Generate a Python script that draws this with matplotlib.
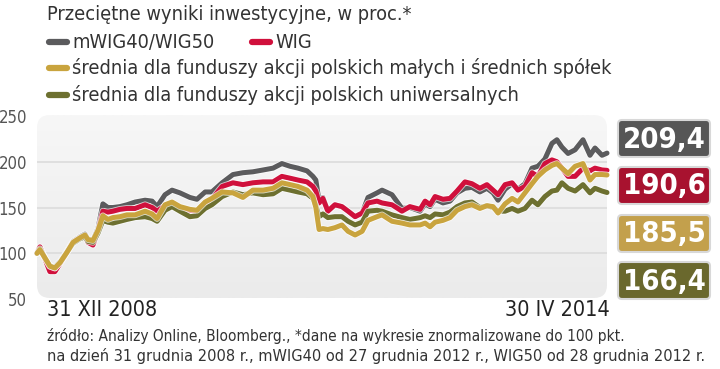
import matplotlib
matplotlib.use("Agg")
import matplotlib.pyplot as plt
import matplotlib.patheffects as pe
from matplotlib.patches import FancyBboxPatch
from matplotlib.lines import Line2D
import numpy as np
import pandas as pd

# data (normalized to 100 on 31 XII 2008)
dates = ["2008-12-31", "2009-01-10", "2009-01-27", "2009-02-13", "2009-03-02", "2009-03-20",
         "2009-04-12", "2009-05-03", "2009-05-27", "2009-06-13", "2009-06-23", "2009-07-10",
         "2009-07-27", "2009-08-13", "2009-08-30", "2009-09-16", "2009-10-10", "2009-11-03",
         "2009-12-01", "2010-01-04", "2010-01-28", "2010-02-14", "2010-03-13", "2010-04-06",
         "2010-05-03", "2010-06-06", "2010-06-30", "2010-07-28", "2010-08-20", "2010-09-24",
         "2010-10-31", "2010-12-04", "2011-01-07", "2011-02-11", "2011-03-17", "2011-04-16",
         "2011-05-14", "2011-06-10", "2011-07-11", "2011-07-31", "2011-08-10", "2011-08-21",
         "2011-09-03", "2011-09-20", "2011-10-14", "2011-11-07", "2011-11-28", "2011-12-22",
         "2012-01-15", "2012-02-04", "2012-03-06", "2012-03-23", "2012-04-26", "2012-05-30",
         "2012-06-26", "2012-07-31", "2012-08-17", "2012-09-03", "2012-09-20", "2012-10-17",
         "2012-11-10", "2012-12-04", "2012-12-31", "2013-01-24", "2013-02-20", "2013-03-16",
         "2013-04-06", "2013-04-23", "2013-05-17", "2013-06-10", "2013-06-30", "2013-07-24",
         "2013-08-17", "2013-09-06", "2013-09-30", "2013-10-24", "2013-11-10", "2013-11-27",
         "2013-12-18", "2014-01-11", "2014-02-07", "2014-03-03", "2014-03-20", "2014-04-13",
         "2014-04-30"]

mwig = [100, 107, 95, 86, 85, 91, 102, 113, 118, 121, 115, 114,
        127, 154, 150, 150, 151, 153, 156, 158, 157, 151, 164, 169,
        166, 161, 159, 167, 167, 177, 186, 188, 189, 191, 193, 198,
        195, 193, 190, 184, 180, 157, 161, 146, 153, 151, 146, 140,
        144, 161, 166, 169, 164, 149, 150, 146, 154, 151, 159, 155,
        157, 166, 171, 172, 167, 171, 166, 158, 170, 176, 170, 176,
        193, 195, 203, 220, 224, 216, 209, 213, 224, 207, 215, 207,
        209.4]

wig = [100, 107, 94, 80, 80, 89, 101, 112, 117, 119, 112, 109,
       124, 146, 145, 146, 148, 149, 149, 153, 150, 146, 152, 155,
       150, 147, 146, 155, 159, 173, 177, 175, 177, 178, 178, 184,
       182, 180, 178, 173, 168, 155, 160, 146, 153, 151, 146, 140,
       144, 155, 157, 155, 153, 146, 151, 148, 157, 153, 162, 159,
       160, 168, 178, 176, 171, 175, 169, 164, 175, 177, 169, 173,
       188, 184, 198, 202, 200, 193, 184, 184, 193, 190, 193, 191,
       190.6]

small_mid = [100, 104, 95, 86, 84, 90, 101, 112, 117, 120, 115, 114,
             125, 141, 137, 139, 140, 142, 142, 146, 143, 138, 153, 156,
             151, 148, 147, 156, 160, 167, 166, 161, 169, 169, 171, 177,
             175, 173, 169, 162, 150, 126, 127, 126, 128, 131, 124, 120,
             124, 136, 140, 142, 135, 133, 131, 131, 133, 129, 134, 136,
             139, 147, 151, 153, 149, 152, 151, 144, 154, 160, 156, 166,
             176, 184, 191, 196, 198, 193, 187, 195, 198, 180, 186, 186,
             185.5]

universal = [100, 105, 95, 86, 84, 90, 101, 111, 116, 118, 113, 112,
             122, 136, 134, 133, 135, 137, 139, 140, 138, 135, 147, 151,
             146, 140, 141, 149, 153, 162, 167, 164, 166, 164, 165, 171,
             169, 167, 165, 160, 152, 140, 143, 139, 140, 140, 135, 131,
             134, 146, 147, 146, 142, 139, 137, 139, 141, 139, 143, 142,
             145, 151, 155, 156, 150, 152, 150, 146, 146, 149, 146, 149,
             158, 153, 162, 168, 169, 177, 171, 168, 175, 166, 171, 168,
             166.4]

labels = ["mWIG40/WIG50", "WIG",
          "średnia dla funduszy akcji polskich małych i średnich spółek",
          "średnia dla funduszy akcji polskich uniwersalnych"]
end_values = ["209,4", "190,6", "185,5", "166,4"]
y_ticks = [50, 100, 150, 200, 250]

line_colors = ["#5b5b5d", "#d0103c", "#c9a43e", "#6d7030"]
box_colors = ["#565656", "#a8122f", "#c3a04c", "#6a682d"]

plt.rcParams['font.family'] = ['DejaVu Sans']
plt.rcParams['font.stretch'] = 'condensed'

W, H = 720, 369
fig = plt.figure(figsize=(W / 100, H / 100), dpi=100)


def fx(px):
    return px / W


def fy(py):
    return 1 - py / H


# rounded grey panel with a soft vertical gradient
bg = fig.add_axes([0, 0, 1, 1], zorder=0)
bg.set_xlim(0, W)
bg.set_ylim(H, 0)
bg.axis('off')
panel = FancyBboxPatch((37, 115), 570, 183, boxstyle="round,pad=0,rounding_size=13",
                       fc="none", ec="none")
bg.add_patch(panel)
grad = np.linspace(0, 1, 100).reshape(-1, 1)
cmap = matplotlib.colors.LinearSegmentedColormap.from_list("g", ["#f7f7f7", "#ebebeb"])
img = bg.imshow(grad, extent=(37, 607, 298, 115), cmap=cmap, aspect='auto', zorder=0.5)
img.set_clip_path(panel)

# main chart
ax = fig.add_axes([fx(37), fy(299.6), fx(570), (299.6 - 115) / H], zorder=1)
ax.patch.set_alpha(0)
x = pd.to_datetime(dates)
ax.set_xlim(x[0], x[-1])
ax.set_ylim(49.5, 251)
for s in ax.spines.values():
    s.set_visible(False)
for g in [100, 150, 200]:
    ax.axhline(g, color="#dadada", lw=1.1, zorder=1)

series = [mwig, wig, universal, small_mid]
cols = [line_colors[0], line_colors[1], line_colors[3], line_colors[2]]
for vals, c in zip(series, cols):
    ax.plot(x, vals, color=c, lw=3.6, solid_capstyle='round', solid_joinstyle='round',
            clip_on=False, zorder=3,
            path_effects=[pe.Stroke(linewidth=4.8, foreground=(1, 1, 1, 0.7)), pe.Normal()])

ax.set_xticks([])
ax.set_yticks(y_ticks)
ax.set_yticklabels([str(t) for t in y_ticks], fontsize=12, color="#555555")
ax.tick_params(axis='y', length=0, pad=7)

# x end labels
fig.text(fx(47), fy(310), "31 XII 2008", fontsize=15.5, color="#222222", va='center', ha='left')
fig.text(fx(610), fy(310), "30 IV 2014", fontsize=15.5, color="#222222", va='center', ha='right')

# title and legend
fig.text(fx(47), fy(14), "Przeciętne wyniki inwestycyjne, w proc.*", fontsize=14.3,
         color="#333333", va='center', ha='left')
legend_rows = [(47, 42, 0), (250, 42, 1), (47, 68, 2), (47, 95, 3)]
for px, py, i in legend_rows:
    fig.add_artist(Line2D([fx(px + 2), fx(px + 20)], [fy(py), fy(py)], color=line_colors[i],
                          lw=4.5, solid_capstyle='round', transform=fig.transFigure))
    fig.text(fx(px + 25), fy(py), labels[i], fontsize=14.3, color="#333333",
             va='center', ha='left')

# end value boxes
box_tops = [120, 167, 215, 262]
for top, txt, c in zip(box_tops, end_values, box_colors):
    bg.add_patch(FancyBboxPatch((618, top), 92, 37, boxstyle="round,pad=0,rounding_size=4",
                                fc=c, ec="#d8d8d8", lw=1.5, zorder=2))
    bg.text(664, top + 19.5, txt, fontsize=21, fontweight='bold', color="white",
            ha='center', va='center', zorder=3)

# source note
fig.text(fx(47), fy(336), "źródło: Analizy Online, Bloomberg., *dane na wykresie znormalizowane do 100 pkt.",
         fontsize=11.1, color="#333333", va='center', ha='left')
fig.text(fx(47), fy(356), "na dzień 31 grudnia 2008 r., mWIG40 od 27 grudnia 2012 r., WIG50 od 28 grudnia 2012 r.",
         fontsize=11.7, color="#333333", va='center', ha='left')

fig.savefig("out.png", dpi=100, facecolor="white")
